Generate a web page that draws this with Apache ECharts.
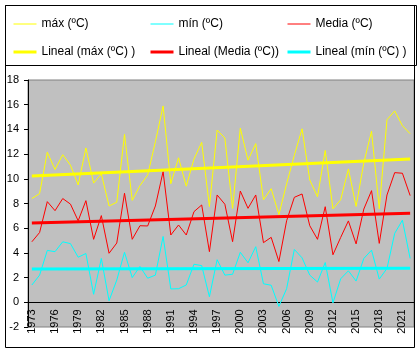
<!DOCTYPE html>
<html>
<head>
<meta charset="utf-8">
<script src="https://cdn.jsdelivr.net/npm/echarts@6/dist/echarts.min.js"></script>
<style>
	html, body { margin: 0; padding: 0; background: #fff; }
	#main { width: 420px; height: 353px; }
</style>
</head>
<body>
<div id="main"></div>
<script>
// años 1973 - 2022
var years = [];
for (var y = 1973; y <= 2022; y++) { years.push(String(y)); }

var maxT = [8.4, 8.8, 12.15, 10.75, 11.95, 11.1, 9.5, 12.5, 9.65, 10.4,
	7.8, 8.1, 13.6, 8.25, 9.45, 10.3, 13.0, 15.9, 9.6, 11.7,
	9.4, 11.6, 12.95, 7.75, 13.95, 13.3, 7.6, 14.1, 11.5, 12.85,
	8.3, 9.2, 7.1, 9.6, 11.9, 14.05, 9.9, 8.55, 12.3, 7.57,
	8.3, 10.8, 7.76, 11.3, 13.85, 7.57, 14.78, 15.5, 14.3, 13.65];

var minT = [1.4, 2.2, 4.2, 4.1, 4.9, 4.75, 3.65, 3.95, 0.65, 3.55,
	0.13, 1.8, 4.05, 2.0, 2.9, 1.95, 2.2, 5.33, 1.08, 1.1,
	1.4, 3.08, 2.97, 0.45, 3.45, 2.2, 2.27, 4.05, 3.2, 4.5,
	1.5, 1.38, -0.33, 1.1, 4.28, 3.6, 2.2, 1.64, 3.22, -0.05,
	1.9, 2.55, 1.72, 3.55, 4.22, 1.88, 2.74, 5.58, 6.65, 3.55];

var meanT = [4.9, 5.65, 8.15, 7.42, 8.4, 7.95, 6.6, 8.23, 5.1, 7.02,
	3.97, 4.8, 8.83, 5.1, 6.2, 6.18, 7.8, 10.58, 5.45, 6.26,
	5.45, 7.34, 7.88, 4.1, 8.69, 7.94, 4.91, 9.01, 7.61, 8.69,
	4.83, 5.26, 3.3, 6.6, 8.5, 8.77, 6.2, 5.1, 7.74, 3.85,
	5.25, 6.59, 4.73, 7.55, 9.04, 4.77, 8.69, 10.5, 10.45, 8.64];

// lineas de tendencia: valor inicial y final
var trendMax = [10.23, 11.6];
var trendMean = [6.42, 7.21];
var trendMin = [2.70, 2.75];

var names = ['máx (ºC)', 'mín (ºC)', 'Media (ºC)',
	'Lineal (máx (ºC) )', 'Lineal (Media (ºC))', 'Lineal (mín (ºC) )'];

function trendData(t) {
	return [[years[0], t[0]], [years[years.length - 1], t[1]]];
}

var font = "'Liberation Sans', Arial, sans-serif";

var myChart = echarts.init(document.getElementById('main'));

var legendBase = {
	orient: 'vertical',
	top: 18,
	padding: 0,
	itemWidth: 23,
	itemHeight: 14,
	itemGap: 16,
	itemStyle: { opacity: 0 },		// solo la linea, sin simbolo
	textStyle: { fontFamily: font, fontSize: 12, color: '#000' }
};

// leyenda en tres columnas: fila 1 series, fila 2 tendencias
function legendCol(left, thin, thick) {
	return Object.assign({}, legendBase, {
		left: left,
		data: [
			{ name: thin, lineStyle: { width: 1 } },
			{ name: thick, lineStyle: { width: 3 } }
		]
	});
}

var option = {
	animation: false,
	backgroundColor: '#fff',
	graphic: [
		{ type: 'rect', shape: { x: 5.5, y: 5.5, width: 409, height: 342 },
			style: { fill: 'none', stroke: '#000', lineWidth: 1 } },
		{ type: 'rect', shape: { x: 5.5, y: 5.5, width: 411, height: 60 },
			style: { fill: 'none', stroke: '#000', lineWidth: 1 } }
	],
	legend: [
		legendCol(12, names[0], names[3]),
		legendCol(149, names[1], names[4]),
		legendCol(286, names[2], names[5])
	],
	grid: {
		left: 28, right: 6, top: 80, bottom: 26,
		outerBoundsMode: 'none',
		show: true,
		backgroundColor: '#C0C0C0',
		borderColor: '#808080',
		borderWidth: 1
	},
	xAxis: {
		type: 'category',
		data: years,
		boundaryGap: true,
		offset: -24.7,		// eje horizontal en el 0
		axisLine: { onZero: false, lineStyle: { color: '#000', width: 1 } },
		axisTick: { interval: 0, length: 4, lineStyle: { color: '#000' } },
		axisLabel: {
			interval: 2,
			rotate: 90,
			margin: 7,
			fontFamily: font,
			fontSize: 11,
			color: '#000'
		},
		splitLine: { show: false }
	},
	yAxis: {
		type: 'value',
		min: -2,
		max: 18,
		interval: 2,
		axisLine: { show: true, lineStyle: { color: '#000', width: 1 } },
		axisTick: { show: true, length: 4, lineStyle: { color: '#000' } },
		axisLabel: { margin: 9, fontFamily: font, fontSize: 11, color: '#000' },
		splitLine: { show: false }
	},
	series: [
		{ name: names[0], type: 'line', data: maxT, symbol: 'none',
			lineStyle: { color: '#FFFF00', width: 1 }, itemStyle: { color: '#FFFF00' } },
		{ name: names[1], type: 'line', data: minT, symbol: 'none',
			lineStyle: { color: '#00FFFF', width: 1 }, itemStyle: { color: '#00FFFF' } },
		{ name: names[2], type: 'line', data: meanT, symbol: 'none',
			lineStyle: { color: '#FF0000', width: 1 }, itemStyle: { color: '#FF0000' } },
		{ name: names[3], type: 'line', data: trendData(trendMax), symbol: 'none',
			lineStyle: { color: '#FFFF00', width: 3 }, itemStyle: { color: '#FFFF00' } },
		{ name: names[4], type: 'line', data: trendData(trendMean), symbol: 'none',
			lineStyle: { color: '#FF0000', width: 3 }, itemStyle: { color: '#FF0000' } },
		{ name: names[5], type: 'line', data: trendData(trendMin), symbol: 'none',
			lineStyle: { color: '#00FFFF', width: 3 }, itemStyle: { color: '#00FFFF' } }
	]
};

myChart.setOption(option);
</script>
</body>
</html>
